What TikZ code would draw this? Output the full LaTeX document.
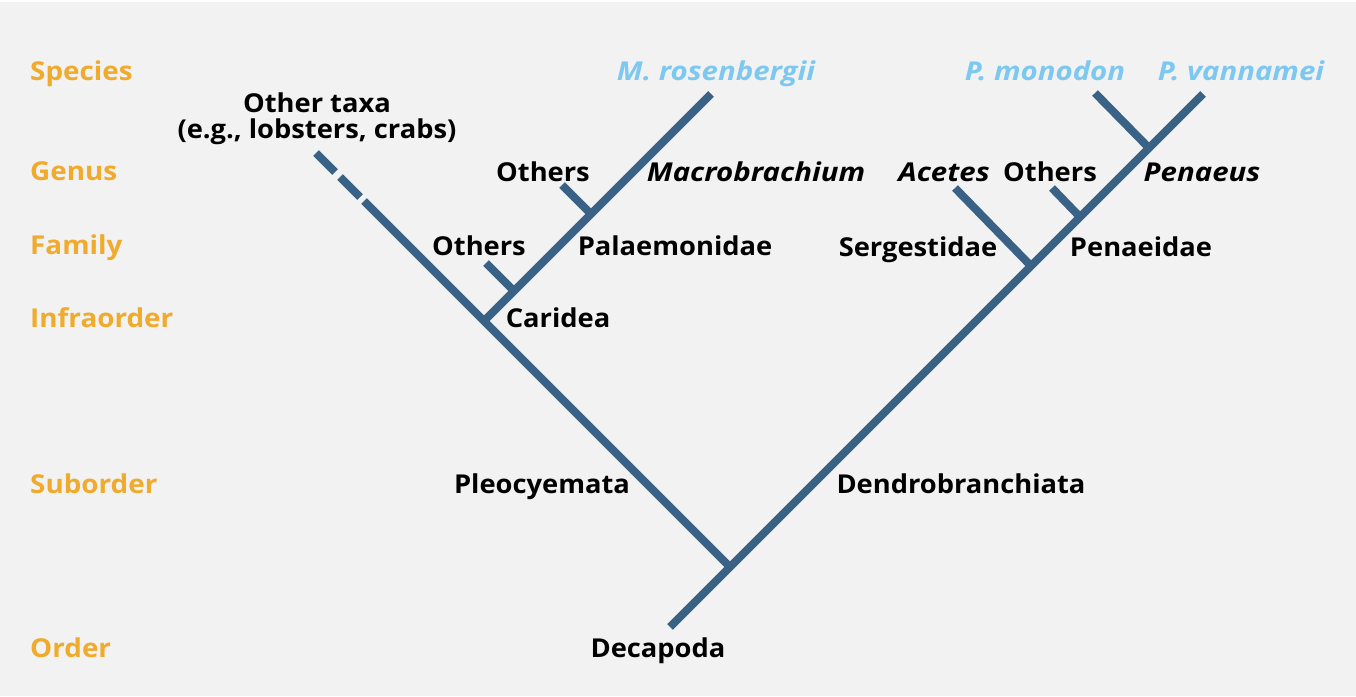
\documentclass[tikz,border=0pt]{standalone}
\usepackage{fontspec}
\setmainfont{Open Sans}
\newfontfamily\upfam{Open Sans}[FakeStretch=1.05]
\newfontfamily\itfam{Open Sans}[FakeStretch=1.13]
\newfontfamily\rankfam{Open Sans}[FakeStretch=1.07]
\definecolor{bggray}{HTML}{F2F2F2}
\definecolor{treeblue}{HTML}{3A6186}
\definecolor{rankorange}{HTML}{F0AA2C}
\definecolor{specblue}{HTML}{7DC8F0}
\tikzset{
  rank/.style={anchor=base west, inner sep=0pt, text=rankorange, font=\rankfam\bfseries\fontsize{26}{30}\selectfont},
  taxon/.style={anchor=base, inner sep=0pt, text=black, font=\upfam\bfseries\fontsize{26}{30}\selectfont},
  genus/.style={taxon, font=\itfam\bfseries\itshape\fontsize{26}{30}\selectfont},
  species/.style={taxon, text=specblue, font=\itfam\bfseries\itshape\fontsize{26}{30}\selectfont},
  branch/.style={draw=treeblue, line width=8pt, line cap=butt}
}
\begin{document}
\begin{tikzpicture}[x=1pt,y=-1pt]
\fill[white] (0,0) rectangle (1356,696);
\fill[bggray] (0,2) rectangle (1356,696);
\useasboundingbox (0,0) rectangle (1356,696);

% rank labels
\node[rank] (rSpecies) at (30,80) {Species};
\node[rank] (rGenus) at (30,180) {Genus};
\node[rank] (rFamily) at (30,254) {Family};
\node[rank] (rInfra) at (30,327) {Infraorder};
\node[rank] (rSub) at (30,493) {Suborder};
\node[rank] (rOrder) at (30,657) {Order};

% tree points
\coordinate (base) at (670,627);
\coordinate (root) at (730,567);
\coordinate (carid) at (484,321);
\coordinate (solidend) at (364,201);
\coordinate (d1a) at (360,197);
\coordinate (d1b) at (340,177);
\coordinate (d2a) at (335,172);
\coordinate (d2b) at (316,153);
\coordinate (palaem) at (514,291);
\coordinate (othF) at (486,263);
\coordinate (macro) at (591,214);
\coordinate (othG) at (562,185);
\coordinate (mros) at (711,94);
\coordinate (serg) at (1031,266);
\coordinate (acetes) at (955,188);
\coordinate (penaeid) at (1080,217);
\coordinate (othP) at (1052,188);
\coordinate (penaeus) at (1149,148);
\coordinate (pmono) at (1095,93);
\coordinate (pvann) at (1203,94);

% branches
\draw[branch] (base) -- (pvann);
\draw[branch] (root) -- (solidend);
\draw[branch] (d1a) -- (d1b);
\draw[branch] (d2a) -- (d2b);
\draw[branch] (carid) -- (mros);
\draw[branch] (palaem) -- (othF);
\draw[branch] (macro) -- (othG);
\draw[branch] (serg) -- (acetes);
\draw[branch] (penaeid) -- (othP);
\draw[branch] (penaeus) -- (pmono);

% labels
\node[taxon] (other1) at (317,112) {Other taxa};
\node[taxon] (other2) at (317,138) {(e.g., lobsters, crabs)};
\node[species] (lMros) at (716,80) {M. rosenbergii};
\node[species] (lPmono) at (1045,80) {P. monodon};
\node[species] (lPvann) at (1241,80) {P. vannamei};
\node[taxon] (lOthG) at (543,181) {Others};
\node[genus] (lMacro) at (756,181) {Macrobrachium};
\node[genus] (lAcetes) at (944,181) {Acetes};
\node[taxon] (lOthP) at (1050,181) {Others};
\node[genus] (lPenaeus) at (1202,181) {Penaeus};
\node[taxon] (lOthF) at (479,255) {Others};
\node[taxon] (lPalaem) at (675,255) {Palaemonidae};
\node[taxon] (lSerg) at (918,256) {Sergestidae};
\node[taxon] (lPenaeid) at (1141,256) {Penaeidae};
\node[taxon] (lCarid) at (558,327) {Caridea};
\node[taxon] (lPleo) at (542,493) {Pleocyemata};
\node[taxon] (lDendro) at (961,493) {Dendrobranchiata};
\node[taxon] (lDeca) at (658,657) {Decapoda};
\end{tikzpicture}
\end{document}
